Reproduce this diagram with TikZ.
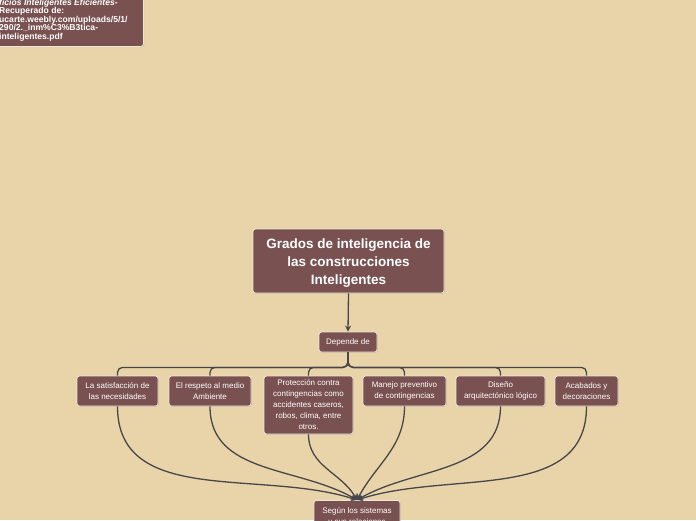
\documentclass[tikz,border=0pt]{standalone}
\usepackage{fontspec}
\setmainfont{Liberation Sans}
\usetikzlibrary{arrows.meta,shadows}
\definecolor{bg}{HTML}{E8D4A8}
\definecolor{boxfill}{HTML}{7A5151}
\definecolor{boxline}{HTML}{EDE6DC}
\definecolor{wire}{HTML}{47474A}
\tikzset{
  topic/.style={draw=boxline, line width=0.8pt, fill=boxfill, rounded corners=2.5pt, text=white, align=center, inner sep=0pt,
    drop shadow={opacity=0.25, shadow xshift=0.8pt, shadow yshift=-0.8pt}},
  small/.style={topic, font=\fontsize{8.0}{11}\selectfont},
  link/.style={draw=wire, line width=1.3pt},
  arr/.style={link, -{Stealth[length=6pt,width=6pt]}},
  branch/.style={link, rounded corners=5pt}
}
\begin{document}
\begin{tikzpicture}[x=1pt,y=-1pt]
\fill[bg] (0,0) rectangle (696,520);
\useasboundingbox (0,0) rectangle (696,520);
\clip (0,0) rectangle (696,520);
% top-left reference box
\node[topic, anchor=north west, minimum width=155pt, minimum height=58pt] (ref) at (-12,-12) {};
\node[anchor=north west, inner sep=0pt, text=white, align=left, font=\fontsize{8.6}{8.5}\selectfont\bfseries] (reft) at (-1,-1.2)
  {\textit{ficios Inteligentes Eficientes-}\\Recuperado de:\\ucarte.weebly.com/uploads/5/1/\\290/2.\_inm\%C3\%B3tica-\\inteligentes.pdf};
% main title
\node[topic, minimum width=191pt, minimum height=64pt, font=\fontsize{13.5}{18}\selectfont\bfseries] (title) at (348.5,261)
  {\raisebox{-2pt}[\height][\depth]{\parbox{185pt}{\centering Grados de inteligencia de\\las construcciones\\Inteligentes}}};
\node[small, minimum width=58pt, minimum height=20pt] (dep) at (348,342) {Depende de};
\node[small, minimum width=81pt, minimum height=30pt] (c1) at (117.5,391) {La satisfacción de\\las necesidades};
\node[small, minimum width=82pt, minimum height=30pt] (c2) at (210,391) {El respeto al medio\\Ambiente};
\node[small, minimum width=89pt, minimum height=58pt] (c3) at (308.5,405) {Protección contra\\contingencias como\\accidentes caseros,\\robos, clima, entre\\otros.};
\node[small, minimum width=83pt, minimum height=30pt] (c4) at (404.5,391) {Manejo preventivo\\de contingencias};
\node[small, minimum width=89pt, minimum height=30pt] (c5) at (500.5,391) {Diseño\\arquitectónico lógico};
\node[small, minimum width=63pt, minimum height=30pt] (c6) at (586.5,391) {Acabados y\\decoraciones};
\node[small, anchor=north, minimum width=86pt, minimum height=32pt] (bot) at (357,500) {Según los sistemas\\y sus relaciones};
% connectors
\draw[arr] (title.south) -- (dep.north);
\foreach \c in {c1,c2,c3,c4,c5,c6}{
  \draw[branch] (dep.south) -- ++(0,15) -| (\c.north);
}
\draw[arr] (c1.south) to[out=-90,in=162] (bot.north);
\draw[arr] (c2.south) to[out=-90,in=150] (bot.north);
\draw[arr] (c3.south) to[out=-90,in=120] (bot.north);
\draw[arr] (c4.south) to[out=-90,in=62] (bot.north);
\draw[arr] (c5.south) to[out=-90,in=30] (bot.north);
\draw[arr] (c6.south) to[out=-90,in=18] (bot.north);
\end{tikzpicture}
\end{document}
